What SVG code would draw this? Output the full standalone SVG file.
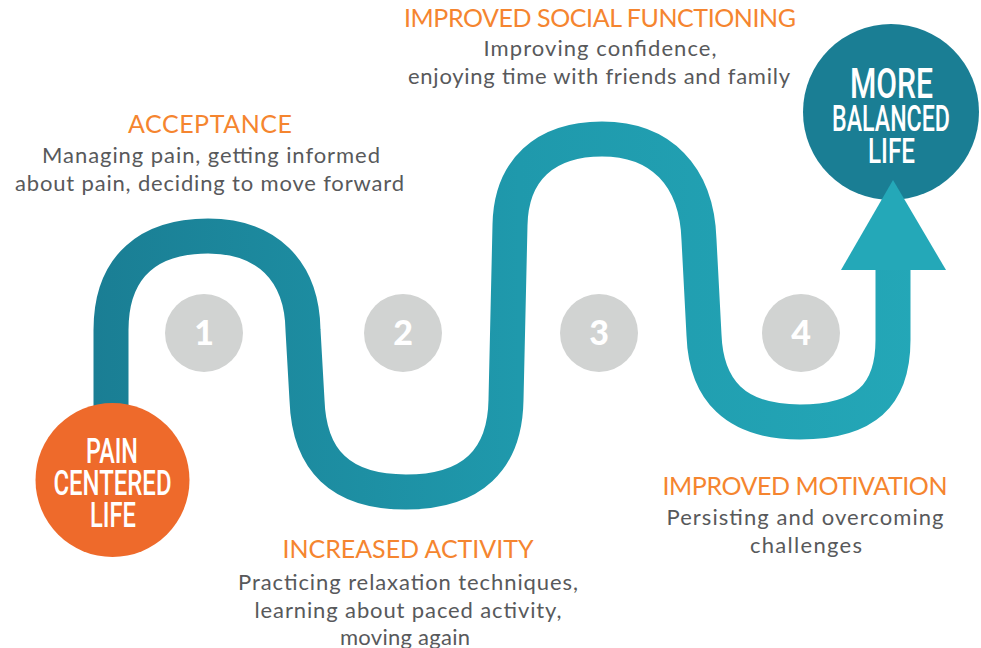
<svg xmlns="http://www.w3.org/2000/svg" width="981" height="648" viewBox="0 0 981 648">
<defs>
<linearGradient id="road" gradientUnits="userSpaceOnUse" x1="93" y1="0" x2="946" y2="0">
<stop offset="0" stop-color="#1A7E94"/>
<stop offset="0.5" stop-color="#1F99AC"/>
<stop offset="1" stop-color="#24A8B8"/>
</linearGradient>
<style>
.title{font-family:Lato,"Liberation Sans",sans-serif;font-size:25px;fill:#F5852F;text-anchor:middle}
.body{font-family:Lato,"Liberation Sans",sans-serif;font-size:22px;fill:#58595B;text-anchor:middle}
.num{fill:#D1D3D2}
.numt{font-family:Lato,"Liberation Sans",sans-serif;font-size:34px;font-weight:900;fill:#FFFFFF;text-anchor:middle}
.big{font-family:Roboto,"Liberation Sans",sans-serif;font-weight:500;fill:#FFFFFF;text-anchor:middle}
</style>
</defs>
<rect width="981" height="648" fill="#FFFFFF"/>
<g id="connectors">
<path id="road-path" d="M111,420 L111,330 C111,265 150,236 208,236 C266,236 302,270 303,330 L307,400 C309,460 340,492 406,492 C472,492 505,460 506,400 L510,225 C511,170 545,139 602,139 C660,139 697,175 699,240 L704,335 C706,390 735,422 800,422 C865,422 893,395 893,340 L893,266" fill="none" stroke="url(#road)" stroke-width="35"/>
</g>
<g id="node-start">
<circle cx="112.5" cy="480" r="77" fill="#EE6A2B"/>
<text class="big" x="112" y="463" font-size="35" textLength="52" lengthAdjust="spacingAndGlyphs">PAIN</text>
<text class="big" x="112.5" y="495" font-size="35" textLength="118" lengthAdjust="spacingAndGlyphs">CENTERED</text>
<text class="big" x="113" y="527" font-size="35" textLength="46" lengthAdjust="spacingAndGlyphs">LIFE</text>
</g>
<g id="node-end">
<circle cx="891" cy="112" r="88" fill="#1A7E94"/>
<text class="big" x="891.5" y="98" font-size="42" textLength="83" lengthAdjust="spacingAndGlyphs">MORE</text>
<text class="big" x="891" y="131" font-size="37" textLength="118" lengthAdjust="spacingAndGlyphs">BALANCED</text>
<text class="big" x="891.5" y="163" font-size="35" textLength="47" lengthAdjust="spacingAndGlyphs">LIFE</text>
</g>
<g id="arrowhead">
<polygon points="893,180 946,270 841,270" fill="#24A8B8"/>
</g>
<g id="step-1">
<circle class="num" cx="204" cy="333" r="39"/>
<text class="numt" x="204" y="345">1</text>
</g>
<g id="step-2">
<circle class="num" cx="403" cy="333" r="39"/>
<text class="numt" x="403" y="345">2</text>
</g>
<g id="step-3">
<circle class="num" cx="599" cy="333" r="39"/>
<text class="numt" x="599" y="345">3</text>
</g>
<g id="step-4">
<circle class="num" cx="801" cy="333" r="39"/>
<text class="numt" x="801" y="345">4</text>
</g>
<g id="label-acceptance">
<text class="title" x="210" y="133" textLength="164">ACCEPTANCE</text>
<text class="body" x="211" y="163" textLength="338">Managing pain, getting informed</text>
<text class="body" x="209.5" y="191" textLength="389">about pain, deciding to move forward</text>
</g>
<g id="label-social">
<text class="title" x="600" y="27" textLength="392">IMPROVED SOCIAL FUNCTIONING</text>
<text class="body" x="600" y="56" textLength="233">Improving confidence,</text>
<text class="body" x="599" y="84" textLength="382">enjoying time with friends and family</text>
</g>
<g id="label-activity">
<text class="title" x="408" y="558" textLength="251">INCREASED ACTIVITY</text>
<text class="body" x="408" y="590" textLength="340">Practicing relaxation techniques,</text>
<text class="body" x="408" y="618" textLength="307">learning about paced activity,</text>
<text class="body" x="405" y="645" textLength="130">moving again</text>
</g>
<g id="label-motivation">
<text class="title" x="805" y="495" textLength="285">IMPROVED MOTIVATION</text>
<text class="body" x="805" y="525" textLength="277">Persisting and overcoming</text>
<text class="body" x="806" y="553" textLength="112">challenges</text>
</g>
</svg>
